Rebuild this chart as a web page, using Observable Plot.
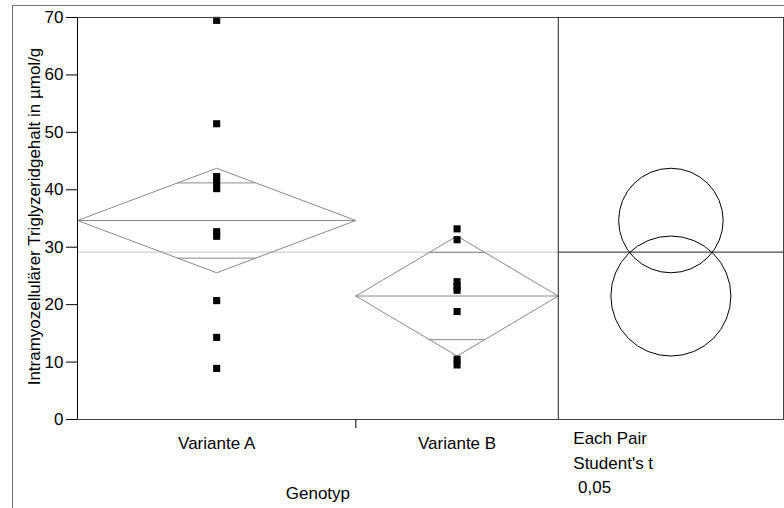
<!DOCTYPE html>
<html><head><meta charset="utf-8">
<script src="https://cdn.jsdelivr.net/npm/d3@7"></script>
<script src="https://cdn.jsdelivr.net/npm/@observablehq/plot@0.6"></script>
<style>
html,body{margin:0;padding:0;background:#fff;}
#wrap{position:relative;width:784px;height:508px;overflow:hidden;background:#fff;}
#outer{position:absolute;left:12px;top:5px;width:772px;height:503px;border-top:1px solid #707070;border-left:1px solid #707070;box-sizing:border-box;pointer-events:none;}
</style></head><body>
<div id="wrap"><div id="chart"></div><div id="outer"></div></div>
<script>
// ---- data ----
const groups = ["Variante A", "Variante B"];
const groupN = [11, 8];
const groupMean = [34.65, 21.5];
const groupCI = [9.1, 10.45];          // 95% CI half-width (diamond / circle)
const overlapUpper = [41.2, 29.1];
const overlapLower = [28.1, 13.9];
const grandMean = 29.15;
const valuesA = [69.5, 51.5, 42.3, 41.3, 40.2, 32.7, 31.9, 20.7, 14.3, 8.9];
const valuesB = [33.2, 31.3, 24.0, 23.2, 22.5, 18.8, 10.5, 9.5];
const yTicks = [0, 10, 20, 30, 40, 50, 60, 70];
const yLabel = "Intramyozellulärer Triglyzeridgehalt in µmol/g";
const xLabel = "Genotyp";
const testLines = ["Each Pair", "Student's t", " 0,05"];

// ---- layout ----
const W = 784, H = 508, mL = 77, mR = 1, mT = 17, mB = 89;
const panelW = 8.9;               // width of comparison-circle panel in x units
const total = d3.sum(groupN);
const starts = groupN.map((n, i) => d3.sum(groupN.slice(0, i)));
const G = groups.map((g, i) => ({
  g, i, x0: starts[i], x1: starts[i] + groupN[i], xc: starts[i] + groupN[i] / 2,
  mean: groupMean[i], ci: groupCI[i], hi: overlapUpper[i], lo: overlapLower[i]
}));
const pts = [...valuesA.map(v => ({i: 0, v})), ...valuesB.map(v => ({i: 1, v}))]
  .map(d => ({x: G[d.i].xc, y: d.v}));
const diamond = G.flatMap(d => [[d.x0, d.mean], [d.xc, d.mean + d.ci], [d.x1, d.mean], [d.xc, d.mean - d.ci], [d.x0, d.mean]]
  .map(([x, y]) => ({g: d.g, x, y})));
const overlaps = G.flatMap(d => [d.hi, d.lo].map(v => {
  const hw = (1 - Math.abs(v - d.mean) / d.ci) * (d.x1 - d.x0) / 2;
  return {y: v, x1: d.xc - hw, x2: d.xc + hw};
}));
const pxPerUnit = (H - mT - mB) / 70;
const panelX = total + panelW / 2;
const gray = "#8a8a8a";

const plot = Plot.plot({
  width: W, height: H,
  marginLeft: mL, marginRight: mR, marginTop: mT, marginBottom: mB,
  style: {fontFamily: "'Liberation Sans', Arial, sans-serif", fontSize: "17px", color: "black", background: "white"},
  x: {domain: [0, total + panelW], axis: null},
  y: {domain: [0, 70], axis: null},
  marks: [
    Plot.ruleY([grandMean], {x1: 0, x2: total, stroke: "#c4c4c4"}),
    Plot.ruleY([grandMean], {x1: total, x2: total + panelW, stroke: "#222"}),
    Plot.line(diamond, {x: "x", y: "y", z: "g", stroke: gray, strokeWidth: 1}),
    Plot.ruleY(G, {y: "mean", x1: "x0", x2: "x1", stroke: gray}),
    Plot.ruleY(overlaps, {y: "y", x1: "x1", x2: "x2", stroke: gray}),
    Plot.dot(pts, {x: "x", y: "y", symbol: "square", r: 4, fill: "black", stroke: "none"}),
    ...G.map(d => Plot.dot([d], {x: () => panelX, y: "mean", r: d.ci * pxPerUnit, stroke: "black", fill: "none", strokeWidth: 1})),
    Plot.frame({stroke: "#444"}),
    Plot.ruleX([0], {stroke: "black"}),
    Plot.ruleX([total], {stroke: "#222"}),
    Plot.axisY({ticks: yTicks, tickSize: 11, tickPadding: 3, label: null}),
    Plot.axisX([groupN[0]], {tickSize: 9, tickFormat: () => "", label: null}),
    Plot.text(G, {x: "xc", text: "g", frameAnchor: "bottom", dy: 29, lineAnchor: "bottom"}),
    Plot.text([xLabel], {x: () => total / 2, frameAnchor: "bottom", dy: 79, lineAnchor: "bottom"}),
    Plot.text([testLines[0]], {x: () => total, frameAnchor: "bottom", dx: 15, dy: 24, textAnchor: "start", lineAnchor: "bottom"}),
    Plot.text([testLines[1]], {x: () => total, frameAnchor: "bottom", dx: 15, dy: 49, textAnchor: "start", lineAnchor: "bottom"}),
    Plot.text([testLines[2]], {x: () => total, frameAnchor: "bottom", dx: 15, dy: 73.5, textAnchor: "start", lineAnchor: "bottom"}),
    Plot.text([yLabel], {frameAnchor: "left", dx: -43, dy: -2, rotate: -90, textAnchor: "middle", lineAnchor: "middle"})
  ]
});
document.getElementById("chart").appendChild(plot);
</script>
</body></html>
